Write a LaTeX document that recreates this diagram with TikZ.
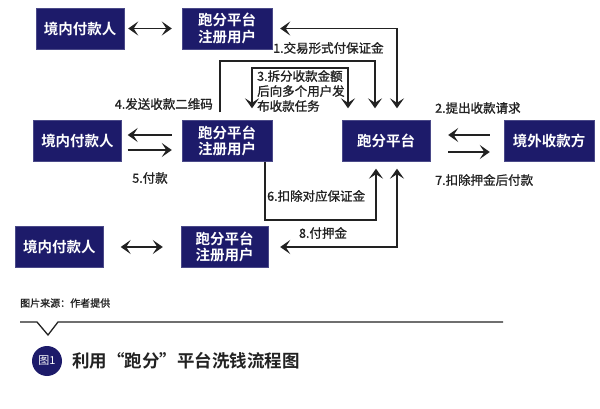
\documentclass[tikz,border=0pt]{standalone}
\usepackage{fontspec}
\setmainfont{Noto Sans CJK SC}[BoldFont=* Bold]
\newfontfamily\midfont{Noto Sans CJK SC}[FakeBold=1.2]
\usepackage{tikz}
\usetikzlibrary{arrows.meta}
\tikzset{>={Stealth[length=10pt,width=14pt,inset=4.5pt]}}
\definecolor{navybox}{HTML}{1D1B6A}
\definecolor{linegray}{HTML}{222222}
\tikzset{
  party/.style={draw=navybox!80, fill=navybox, text=white, minimum width=88pt, minimum height=41pt, inner sep=0pt, font=\fontsize{14.5}{16.5}\selectfont\bfseries},
  flow/.style={line width=1.6pt, linegray},
  lbl/.style={font=\midfont\fontsize{12.5}{15}\selectfont, text=linegray, inner sep=0pt}
}

\begin{document}
\begin{tikzpicture}[x=1pt, y=-1pt]
            \useasboundingbox (0,0) rectangle (600,409);
            % boxes
            \node[party] (pay1) at (80,28.5) {境内付款人};
            \node[party, minimum width=90pt, align=center] (reg1) at (227,28.5) {跑分平台\\注册用户};
            \node[party] (pay2) at (77.5,141) {境内付款人};
            \node[party, minimum width=90pt, align=center] (reg2) at (227,141) {跑分平台\\注册用户};
            \node[party] (pay3) at (59.5,247) {境内付款人};
            \node[party, minimum width=87pt, align=center] (reg3) at (224.5,247) {跑分平台\\注册用户};
            \node[party] (plat) at (386,141) {跑分平台};
            \node[party, minimum width=90pt] (recv) at (549,141) {境外收款方};
            % payers and users
            \draw[flow, <->] ([xshift=4pt]pay1.east) -- ([xshift=-10pt]reg1.west);
            \draw[flow, ->] ([xshift=-10pt,yshift=6pt]reg2.west) -- ([xshift=6pt,yshift=6pt]pay2.east);
            \draw[flow, ->] ([xshift=6pt,yshift=-9pt]pay2.east) -- ([xshift=-10pt,yshift=-9pt]reg2.west);
            \draw[flow, <->] ([xshift=17pt]pay3.east) -- ([xshift=-18pt]reg3.west);
            % platform and receiver
            \draw[flow, ->] ([xshift=-14pt,yshift=6pt]recv.west) -- ([xshift=18pt,yshift=6pt]plat.east);
            \draw[flow, ->] ([xshift=18pt,yshift=-11pt]plat.east) -- ([xshift=-14pt,yshift=-11pt]recv.west);
            % top loops
            \draw[flow, <->] ([xshift=8pt]reg1.east) -| ([xshift=11pt,yshift=12pt]plat.north);
            \draw[flow, ->] ([xshift=-7pt,yshift=8pt]reg2.north) -- ++(0,-51) -| ([xshift=-11pt,yshift=12pt]plat.north);
            \draw[flow, <->] ([xshift=25pt,yshift=12pt]reg2.north) -- ++(0,-40) -| ([xshift=-38pt,yshift=12pt]plat.north);
            % bottom loops
            \draw[flow, ->] ([xshift=38pt]reg2.south) -- ++(0,58) -| ([xshift=-10pt,yshift=-7pt]plat.south);
            \draw[flow, <->] ([xshift=11pt,yshift=-7pt]plat.south) |- ([xshift=12pt]reg3.east);
            % labels
            \node[lbl, anchor=west] (l1) at (273,48) {1.交易形式付保证金};
            \node[lbl, anchor=west] (l2) at (435,108) {2.提出收款请求};
            \node[lbl, anchor=north west, align=left] (l3) at (257,70) {3.拆分收款金额\\后向多个用户发\\布收款任务};
            \node[lbl, anchor=east] (l4) at (213,104) {4.发送收款二维码};
            \node[lbl] (l5) at (150,178) {5.付款};
            \node[lbl, anchor=west] (l6) at (267,196) {6.扣除对应保证金};
            \node[lbl, anchor=west] (l7) at (435,180) {7.扣除押金后付款};
            \node[lbl] (l8) at (323,233) {8.付押金};
            % caption
            \node[lbl, anchor=west, font=\midfont\fontsize{10}{12}\selectfont] (src) at (20,303) {图片来源：作者提供};
            \draw[line width=1.3pt, linegray] (20,322) -- (37,322) -- (48,335) -- (58,322) -- (503,322);
            \node[circle, fill=navybox, minimum size=30pt, inner sep=0pt, text=white, font=\fontsize{11}{12}\selectfont] (fig) at (47,361) {图1};
            \node[anchor=west, inner sep=0pt, text=linegray, font=\fontsize{17.5}{20}\selectfont\bfseries] (title) at (72,361) {利用“跑分”平台洗钱流程图};
        \end{tikzpicture}
\end{document}
